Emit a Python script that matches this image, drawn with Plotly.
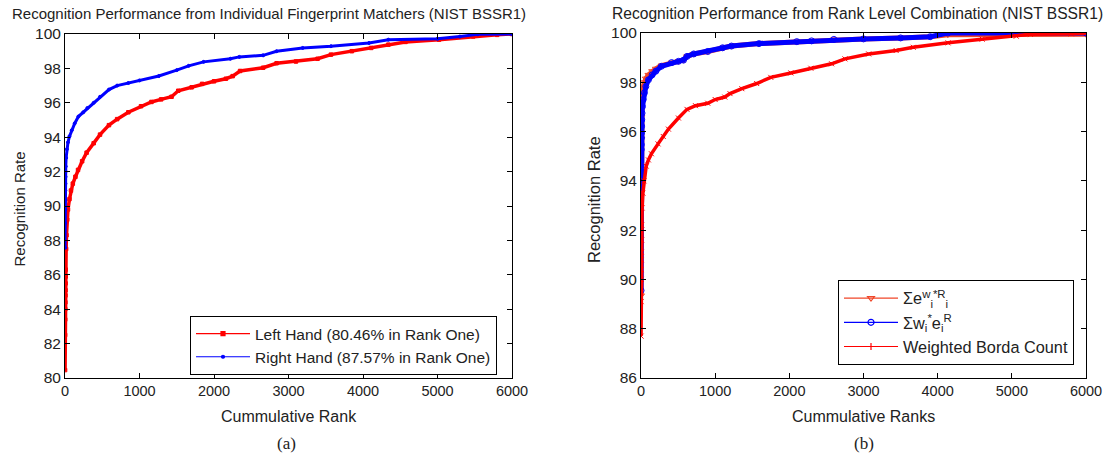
import plotly.graph_objects as go

# ---------------- data ----------------
# (a) individual matchers
left_rank = [1, 2, 3, 4, 5, 6, 7, 8, 9, 10, 15, 20, 30, 40, 60, 80, 105, 140, 175, 230, 290,
             385, 470, 590, 700, 850, 1020, 1160, 1290, 1430, 1520, 1700, 1840, 2000, 2160,
             2250, 2350, 2660, 2840, 3100, 3390, 3570, 3850, 4110, 4340, 4570, 5020, 5480,
             5800, 6000]
left_rate = [80.46, 82.5, 83.4, 84.0, 84.4, 84.8, 85.1, 85.5, 85.9, 86.3, 87.5, 88.3, 89.2,
             89.8, 90.4, 90.9, 91.3, 91.7, 92.1, 92.6, 93.1, 93.65, 94.15, 94.7, 95.05, 95.45,
             95.8, 96.05, 96.2, 96.35, 96.7, 96.9, 97.1, 97.25, 97.4, 97.55, 97.85, 98.04,
             98.3, 98.4, 98.56, 98.8, 99.0, 99.19, 99.38, 99.54, 99.67, 99.86, 99.95, 100.0]

right_rank = [1, 2, 3, 4, 5, 6, 7, 8, 10, 15, 25, 40, 60, 90, 130, 180, 245, 300, 385, 470,
              590, 700, 850, 1000, 1260, 1500, 1660, 1860, 2220, 2340, 2660, 2840, 3190,
              3570, 4080, 4340, 5000, 5300, 5540, 6000]
right_rate = [87.57, 89.0, 89.8, 90.35, 90.9, 91.3, 91.7, 92.0, 92.3, 92.8, 93.3, 93.7, 94.05,
              94.4, 94.8, 95.2, 95.45, 95.7, 96.0, 96.35, 96.77, 97.0, 97.15, 97.3, 97.56,
              97.9, 98.15, 98.38, 98.56, 98.67, 98.76, 99.0, 99.19, 99.29, 99.48, 99.67,
              99.72, 99.85, 99.98, 100.0]

# (b) rank level combination
exp_rank = [1, 2, 3, 4, 5, 6, 8, 10, 15, 25, 40, 65, 100, 150, 200, 275, 413, 505, 573, 620,
            711, 900, 1100, 1220, 1590, 2100, 2300, 2600, 3000, 3500, 3900, 4137, 6000]
exp_rate = [89.35, 94.0, 95.7, 96.2, 96.6, 96.9, 97.1, 97.3, 97.55, 97.8, 98.0, 98.15, 98.3,
            98.45, 98.55, 98.68, 98.8, 98.85, 98.9, 99.05, 99.15, 99.25, 99.4, 99.47, 99.57,
            99.65, 99.68, 99.74, 99.76, 99.8, 99.85, 99.93, 99.95]

wexp_rank = [1, 2, 3, 4, 5, 6, 8, 10, 14, 20, 30, 45, 65, 100, 150, 200, 275, 413, 505, 573,
             620, 711, 900, 1100, 1220, 1590, 2100, 2300, 2600, 3000, 3500, 3900, 4137, 6000]
wexp_rate = [89.55, 94.45, 95.27, 95.47, 95.74, 95.94, 96.21, 96.48, 96.75, 97.02, 97.3,
             97.57, 97.83, 98.1, 98.3, 98.45, 98.65, 98.8, 98.85, 98.9, 99.05, 99.15, 99.25,
             99.4, 99.47, 99.57, 99.65, 99.68, 99.74, 99.76, 99.8, 99.85, 100.0, 100.0]

borda_rank = [1, 2, 3, 4, 5, 6, 8, 10, 15, 25, 40, 70, 100, 140, 230, 300, 370, 505, 620, 735,
              900, 1000, 1130, 1200, 1360, 1560, 1750, 2020, 2290, 2570, 2750, 3070, 3440,
              3670, 4140, 4600, 5060, 5250, 5800, 6000]
borda_rate = [87.7, 89.1, 90.0, 90.4, 90.8, 91.1, 91.6, 92.2, 92.9, 93.5, 94.0, 94.6, 94.85,
              95.1, 95.5, 95.8, 96.1, 96.55, 96.9, 97.05, 97.15, 97.3, 97.4, 97.54, 97.74,
              97.95, 98.2, 98.38, 98.57, 98.75, 98.95, 99.15, 99.29, 99.42, 99.6, 99.75,
              99.87, 99.95, 99.97, 100.0]

left_names = ["Left Hand (80.46% in Rank One)", "Right Hand (87.57% in Rank One)"]
right_names = ["Σe<sup>w</sup><sub>i</sub><sup>*R</sup><sub>i</sub>",
               "Σw<sub>i</sub><sup>*</sup>e<sub>i</sub><sup>R</sup>",
               "Weighted Borda Count"]

left_ticks_y = list(range(80, 101, 2))
right_ticks_y = list(range(86, 101, 2))
x_ticks = list(range(0, 6001, 1000))

# ---------------- figure ----------------
W, H = 1114, 458
FONT = "Liberation Sans, Arial, sans-serif"
SERIF = "Liberation Serif, Times New Roman, serif"
TXT = "#222222"
RED, BLUE, ORANGE = "#ff0000", "#0000ff", "#f04628"


def px_x(p):
    return p / W


def px_y(p):
    return 1 - p / H


fig = go.Figure()


# data traces (thick, like MATLAB's dense markers)
def data_trace(x, y, color, width, symbol, size, xa, ya):
    return go.Scatter(x=x, y=y, mode="lines+markers", showlegend=False,
                      line=dict(color=color, width=width),
                      marker=dict(symbol=symbol, size=size, color=color,
                                  line=dict(width=1, color=color)),
                      xaxis=xa, yaxis=ya, hoverinfo="x+y")


fig.add_trace(data_trace(left_rank, left_rate, RED, 3.5, "square", 3.5, "x", "y"))
fig.add_trace(data_trace(right_rank, right_rate, BLUE, 3, "circle", 3, "x", "y"))
fig.add_trace(data_trace(exp_rank, exp_rate, ORANGE, 5, "triangle-down-open", 6, "x2", "y2"))
fig.add_trace(data_trace(wexp_rank, wexp_rate, BLUE, 5, "circle-open", 6, "x2", "y2"))
fig.add_trace(data_trace(borda_rank, borda_rate, RED, 3.5, "x-thin-open", 5, "x2", "y2"))


# legend entries (thin line + marker as in the reference legend)
def legend_proxy(name, color, symbol, size, xa, ya, lg):
    return go.Scatter(x=[None], y=[None], name=name, mode="lines+markers",
                      line=dict(color=color, width=1.2),
                      marker=dict(symbol=symbol, size=size, color=color,
                                  line=dict(width=1.2, color=color)),
                      xaxis=xa, yaxis=ya, legend=lg)


fig.add_trace(legend_proxy(left_names[0], RED, "square", 4, "x", "y", "legend"))
fig.add_trace(legend_proxy(left_names[1], BLUE, "circle", 3, "x", "y", "legend"))
fig.add_trace(legend_proxy(right_names[0], ORANGE, "triangle-down-open", 6, "x2", "y2", "legend2"))
fig.add_trace(legend_proxy(right_names[1], BLUE, "circle-open", 6, "x2", "y2", "legend2"))
fig.add_trace(legend_proxy(right_names[2], RED, "line-ns-open", 5, "x2", "y2", "legend2"))

axis_common = dict(
    showline=True, linecolor="black", linewidth=1, mirror="ticks",
    ticks="inside", ticklen=5, tickcolor="black", tickwidth=1,
    showgrid=False, zeroline=False, automargin=False,
)
xfont = dict(family=FONT, size=14.5, color=TXT)
yfont = dict(family=FONT, size=15.5, color=TXT)

fig.update_layout(
    width=W, height=H,
    margin=dict(l=0, r=0, t=0, b=0, pad=0, autoexpand=False),
    paper_bgcolor="white", plot_bgcolor="white",
    showlegend=True,
    xaxis=dict(domain=[px_x(65), px_x(512)], range=[0, 6000], tickvals=x_ticks,
               anchor="y", tickfont=xfont, **axis_common),
    yaxis=dict(domain=[px_y(378), px_y(34)], range=[80, 100], tickvals=left_ticks_y,
               anchor="x", tickfont=yfont, **axis_common),
    xaxis2=dict(domain=[px_x(641), px_x(1086)], range=[0, 6000], tickvals=x_ticks,
                anchor="y2", tickfont=xfont, **axis_common),
    yaxis2=dict(domain=[px_y(378), px_y(33)], range=[86, 100], tickvals=right_ticks_y,
                anchor="x2", tickfont=yfont, **axis_common),
    legend=dict(x=px_x(190), y=px_y(345.5), xanchor="left", yanchor="middle",
                bgcolor="white", bordercolor="black", borderwidth=1,
                font=dict(family=FONT, size=15.5, color=TXT),
                tracegroupgap=0, itemwidth=54),
    legend2=dict(x=px_x(838), y=px_y(322.5), xanchor="left", yanchor="middle",
                 bgcolor="white", bordercolor="black", borderwidth=1,
                 font=dict(family=FONT, size=16.3, color=TXT),
                 tracegroupgap=4, itemwidth=54),
)

ann = [
    ("Recognition Performance from Individual Fingerprint Matchers (NIST BSSR1)", 269, 14, 15, FONT, 0),
    ("Recognition Performance from Rank Level Combination (NIST BSSR1)", 857, 13, 15.6, FONT, 0),
    ("Cummulative Rank", 288.5, 416, 16, FONT, 0),
    ("Cummulative Ranks", 864, 416, 16, FONT, 0),
    ("Recognition Rate", 18.5, 209, 15, FONT, -90),
    ("Recognition Rate", 594, 200, 16.5, FONT, -90),
    ("(a)", 286, 443, 17, SERIF, 0),
    ("(b)", 864, 443, 17, SERIF, 0),
]
for text, x, y, size, fam, ang in ann:
    fig.add_annotation(text=text, x=px_x(x), y=px_y(y), xref="paper", yref="paper",
                       xanchor="center", yanchor="middle", showarrow=False, textangle=ang,
                       font=dict(family=fam, size=size, color=TXT))

fig.write_html("out.html", config={"displayModeBar": False},
               post_script="document.body.style.margin='0';document.body.style.overflow='hidden';")
